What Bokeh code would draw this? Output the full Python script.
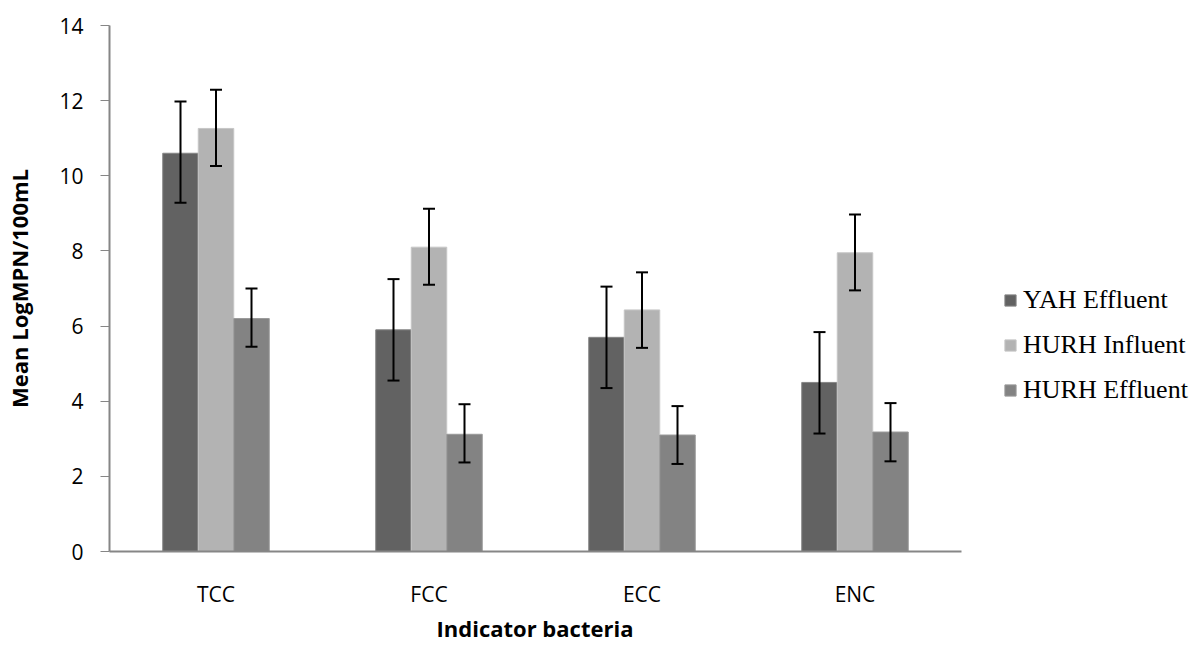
from bokeh.plotting import figure
from bokeh.models import (ColumnDataSource, Range1d, Whisker, TeeHead, Legend,
                          LegendItem, FixedTicker, Title)
from bokeh.embed import file_html
from bokeh.resources import INLINE

categories = ["TCC", "FCC", "ECC", "ENC"]
series = ["YAH Effluent", "HURH Influent", "HURH Effluent"]
yah_mean = [10.6, 5.9, 5.7, 4.5]
yah_low = [9.28, 4.55, 4.35, 3.14]
yah_high = [11.98, 7.25, 7.05, 5.84]
inf_mean = [11.26, 8.1, 6.43, 7.95]
inf_low = [10.26, 7.1, 5.42, 6.95]
inf_high = [12.29, 9.12, 7.43, 8.97]
eff_mean = [6.2, 3.12, 3.1, 3.18]
eff_low = [5.45, 2.37, 2.33, 2.4]
eff_high = [7.0, 3.92, 3.87, 3.95]
y_ticks = [0, 2, 4, 6, 8, 10, 12, 14]

colors = ["#626262", "#b3b3b3", "#838383"]
edges = ["#858585", "#c6c6c6", "#9a9a9a"]

n = len(categories)
centers = [i + 0.5 for i in range(n)]
x_end = n * (1194 - 109) / 852.0

p = figure(width=1194, height=655, x_range=Range1d(0, x_end),
           y_range=Range1d(0, 14), output_backend="svg", toolbar_location=None,
           min_border_left=109, min_border_right=0, min_border_top=25,
           min_border_bottom=104)
p.outline_line_color = None
p.xgrid.grid_line_color = None
p.ygrid.grid_line_color = None
p.background_fill_color = "white"
p.border_fill_color = "white"

data = [(yah_mean, yah_low, yah_high), (inf_mean, inf_low, inf_high),
        (eff_mean, eff_low, eff_high)]
offsets = [-1/6, 0, 1/6]
items = []
for i, (m, lo, hi) in enumerate(data):
    xs = [c + offsets[i] for c in centers]
    src = ColumnDataSource(dict(x=xs, cat=categories, mean=m, low=lo, high=hi))
    r = p.vbar(x="x", top="mean", width=1/6, source=src,
               fill_color=colors[i], line_color=edges[i], line_width=1)
    w = Whisker(base="x", upper="high", lower="low", source=src,
                line_color="black", line_width=2, level="overlay",
                upper_head=TeeHead(size=12, line_color="black", line_width=2),
                lower_head=TeeHead(size=12, line_color="black", line_width=2))
    p.add_layout(w)
    items.append(LegendItem(label=series[i], renderers=[r]))

legend = Legend(items=items, location=(894, 146), orientation="vertical")
legend.border_line_color = None
legend.background_fill_alpha = 0
legend.padding = 0
legend.margin = 0
legend.glyph_width = 14
legend.glyph_height = 14
legend.label_height = 30
legend.spacing = 15
legend.label_standoff = 6
legend.label_text_font = "Liberation Serif"
legend.label_text_font_size = "26px"
legend.label_text_color = "black"
p.add_layout(legend, "center")

ya = p.yaxis[0]
ya.ticker = FixedTicker(ticks=y_ticks)
ya.axis_line_color = "#868686"
ya.axis_line_width = 2
ya.major_tick_line_color = "#868686"
ya.major_tick_out = 9
ya.major_tick_in = 0
ya.minor_tick_line_color = None
ya.major_label_standoff = 17
ya.major_label_text_font = "Open Sans"
ya.major_label_text_font_size = "21px"
ya.major_label_text_color = "black"
ya.axis_label = "Mean LogMPN/100mL"
ya.axis_label_text_font = "Open Sans"
ya.axis_label_text_font_style = "bold"
ya.axis_label_text_font_size = "22px"
ya.axis_label_text_color = "black"
ya.axis_label_standoff = 22

xa = p.xaxis[0]
xa.ticker = FixedTicker(ticks=centers)
xa.major_label_overrides = {c: lab for c, lab in zip(centers, categories)}
xa.bounds = (0, n)
xa.axis_line_color = "#868686"
xa.axis_line_width = 2
xa.major_tick_line_color = None
xa.minor_tick_line_color = None
xa.major_tick_out = 0
xa.major_label_standoff = 28
xa.major_label_text_font = "Open Sans"
xa.major_label_text_font_size = "21px"
xa.major_label_text_color = "black"

xt = Title(text="Indicator bacteria", align="left", offset=327,
           text_font="Open Sans", text_font_style="bold", text_font_size="22px",
           text_color="black", standoff=0)
p.add_layout(xt, "below")

open("out.html", "w").write(file_html(p, INLINE))
